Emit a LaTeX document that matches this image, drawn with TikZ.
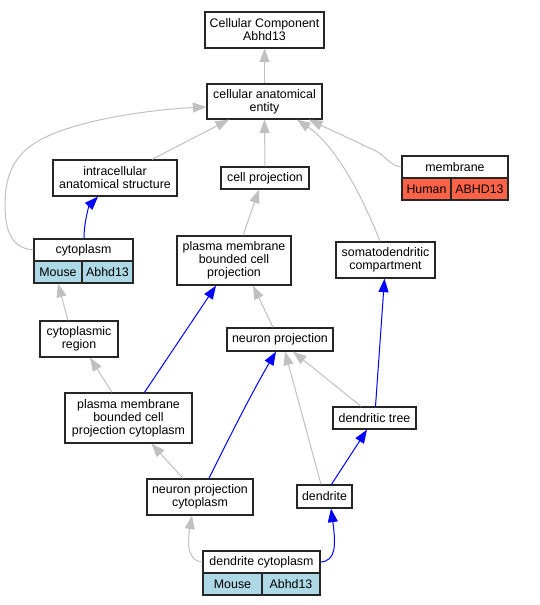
\documentclass[tikz,border=0pt]{standalone}
\usepackage{fontspec}
\setmainfont{Liberation Sans}
\usetikzlibrary{arrows.meta,calc}
\begin{document}
\begin{tikzpicture}[x=1pt,y=-1pt,
  box/.style={draw=black!85, line width=1.3pt, fill=white, inner sep=0pt, align=center,
    font=\fontsize{12.4}{13}\selectfont},
  mousecell/.style={box, fill=lightblue},
  humancell/.style={box, fill=tomatored},
  gr/.style={draw=edgegray, line width=1pt, -{Triangle[length=13.5pt,width=10pt]}},
  bl/.style={draw=blue, line width=1pt, -{Triangle[length=13.5pt,width=10pt]}},
]
\definecolor{lightblue}{HTML}{ADD8E6}
\definecolor{tomatored}{HTML}{FF6347}
\definecolor{edgegray}{HTML}{C0C0C0}
\useasboundingbox (0,0) rectangle (540,605);
% nodes
\node[box, minimum width=119, minimum height=36] (cc) at (264.5,30) {Cellular Component\\Abhd13};
\node[box, minimum width=115, minimum height=35] (cae) at (264.5,101.5) {cellular anatomical\\entity};
\node[box, minimum width=124, minimum height=36] (ias) at (115,178) {intracellular\\anatomical structure};
\node[box, minimum width=88, minimum height=22] (cp) at (265,178) {cell projection};
\node[box, minimum width=106, minimum height=22] (mem) at (455,167) {membrane};
\node[humancell, minimum width=49, minimum height=22] (memh) at (426.5,189) {Human};
\node[humancell, minimum width=57, minimum height=22] (memg) at (479.5,189) {ABHD13};
\node[box, minimum width=99, minimum height=22] (cyt) at (83.5,250) {cytoplasm};
\node[mousecell, minimum width=48, minimum height=22] (cytm) at (58,272) {Mouse};
\node[mousecell, minimum width=51, minimum height=22] (cytg) at (107.5,272) {Abhd13};
\node[box, minimum width=114, minimum height=49] (pmbcp) at (234,260.5) {plasma membrane\\bounded cell\\projection};
\node[box, minimum width=99, minimum height=36] (sdc) at (385.5,260) {somatodendritic\\compartment};
\node[box, minimum width=78, minimum height=36] (cr) at (79,339) {cytoplasmic\\region};
\node[box, minimum width=106, minimum height=23] (np) at (280,339.5) {neuron projection};
\node[box, minimum width=127, minimum height=50] (pmbcpc) at (128.5,418) {plasma membrane\\bounded cell\\projection cytoplasm};
\node[box, minimum width=83, minimum height=22] (dt) at (374.5,418) {dendritic tree};
\node[box, minimum width=106, minimum height=36] (npc) at (200,497) {neuron projection\\cytoplasm};
\node[box, minimum width=55, minimum height=23] (den) at (324.5,496.5) {dendrite};
\node[box, minimum width=117, minimum height=22] (dc) at (261.5,562) {dendrite cytoplasm};
\node[mousecell, minimum width=59, minimum height=22] (dcm) at (232.5,584) {Mouse};
\node[mousecell, minimum width=58, minimum height=22] (dcg) at (291,584) {Abhd13};
% edges
\draw[gr] (cae.north) -- (cc.south);
\draw[gr] ([xshift=37]ias.north) -- ([xshift=-35.5]cae.south);
\draw[gr] (cp.north) -- (cae.south);
\draw[gr] ([xshift=-5.5]sdc.north) .. controls (362,195) and (335,145) .. ([xshift=32.5]cae.south);
\draw[gr] (mem.west) .. controls (390,166) and (386,156) .. (376,151) -- ([xshift=44.5]cae.south);
\draw[gr] (cyt.west) .. controls (12,248) and (5,232) .. (5,205)
   .. controls (5,170) and (18,152) .. (40,140)
   .. controls (80,118) and (160,109) .. ([yshift=-5.5]cae.west);
\draw[bl] ([xshift=0.5]cyt.north) .. controls (84,222) and (89,206) .. ([xshift=-17]ias.south);
\draw[gr] ([xshift=9]pmbcp.north) -- ([xshift=-6]cp.south);
\draw[gr] ([xshift=-11]cr.north) -- (cytm.south);
\draw[gr] ([xshift=-7]np.north) -- ([xshift=19]pmbcp.south);
\draw[gr] ([xshift=-16.5]pmbcpc.north) -- ([xshift=11]cr.south);
\draw[bl] ([xshift=16]pmbcpc.north) -- ([xshift=-18]pmbcp.south);
\draw[bl] ([xshift=9]npc.north) .. controls (224,448) and (252,392) .. ([xshift=-4]np.south);
\draw[gr] ([xshift=-17]npc.north) -- ([xshift=23]pmbcpc.south);
\draw[gr] ([xshift=-3.5]den.north) -- ([xshift=5]np.south);
\draw[gr] ([xshift=-13.5]dt.north) -- ([xshift=13]np.south);
\draw[bl] ([xshift=1]dt.north) -- ([xshift=-1]sdc.south);
\draw[bl] ([xshift=7]den.north) -- ([xshift=-7.5]dt.south);
\draw[gr] (dc.west) .. controls (188,561) and (187,545) .. ([xshift=-8]npc.south);
\draw[bl] (dc.east) .. controls (336,561) and (336,545) .. ([xshift=6.5]den.south);
\end{tikzpicture}
\end{document}
